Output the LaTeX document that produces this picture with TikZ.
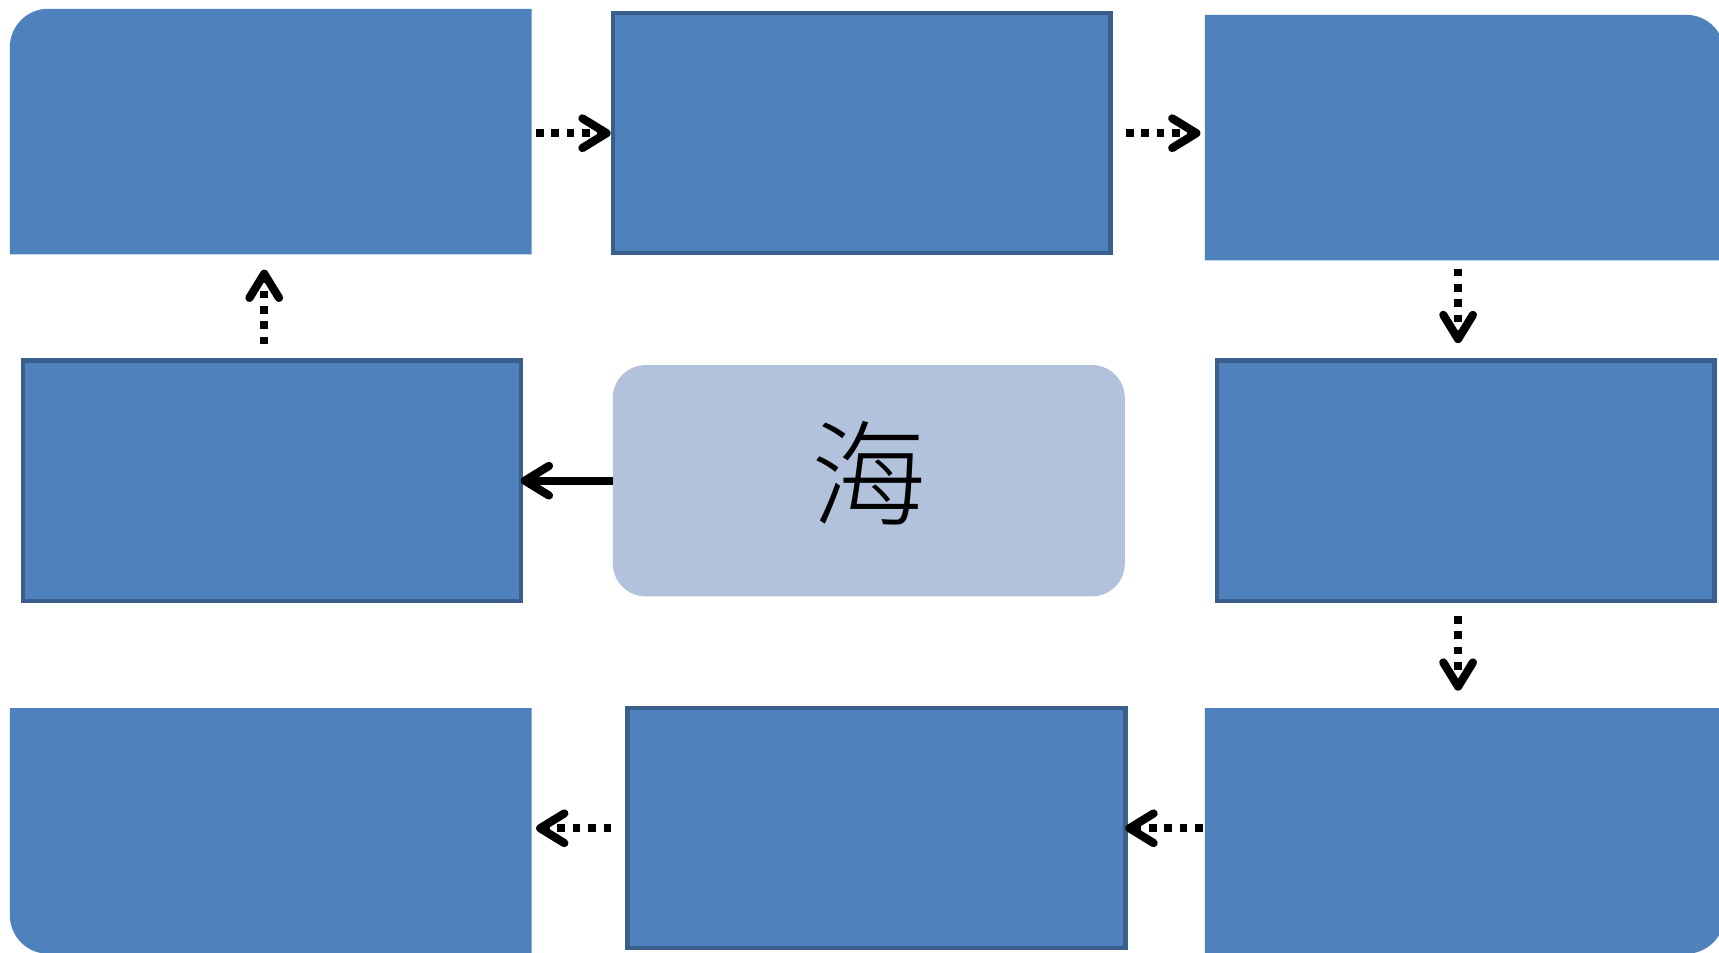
\documentclass[tikz,border=0pt]{standalone}
\usepackage{fontspec}
\newfontfamily\cjkfont{Noto Sans CJK TC Light}
\usetikzlibrary{arrows.meta,calc}
\definecolor{boxblue}{HTML}{4F81BD}
\definecolor{boxedge}{HTML}{3A5F8C}
\definecolor{centerfill}{HTML}{B2C1DC}
\tikzset{
  framedbox/.style={rectangle, draw=boxedge, fill=boxblue, line width=4pt,
    inner sep=0pt, outer sep=0pt, minimum width=454pt, minimum height=219pt},
  openbox/.style={rectangle, inner sep=0pt, outer sep=0pt,
    minimum width=476pt, minimum height=224pt},
  centerbox/.style={rectangle, rounded corners=30pt, fill=centerfill,
    inner sep=0pt, outer sep=0pt, minimum width=467pt, minimum height=211pt},
  kanji/.style={inner sep=0pt, font=\cjkfont\fontsize{105pt}{105pt}\selectfont},
  flowline/.style={line width=7.5pt, line cap=butt,
    -{Straight Barb[length=22pt,width=27pt,round]}},
  dotflow/.style={flowline, dash pattern=on 7pt off 7pt},
}
\begin{document}
\begin{tikzpicture}[x=1pt,y=1pt]
\useasboundingbox (0,0) rectangle (1568,869);
\clip (0,0) rectangle (1568,869);

% boxes
\node[openbox] (TL) at (247,749) {};
\node[framedbox] (TM) at (786,747.5) {};
\node[openbox, minimum width=474pt] (TR) at (1336,743.5) {};
\node[framedbox] (ML) at (248,430.5) {};
\node[centerbox] (C) at (792.5,430.5) {};
\node[framedbox] (MR) at (1337,430.5) {};
\node[openbox] (BL) at (247,111) {};
\node[framedbox] (BM) at (799.5,113.5) {};
\node[openbox, minimum width=474pt] (BR) at (1336,111) {};

% fills of the boxes with one rounded corner
\fill[boxblue] (TL.south west) -- ([yshift=-35pt]TL.north west)
  arc[start angle=180, end angle=90, radius=35pt] -- (TL.north east)
  -- (TL.south east) -- cycle;
\fill[boxblue] (TR.south west) -- (TR.north west) -- ([xshift=-35pt]TR.north east)
  arc[start angle=90, end angle=0, radius=35pt] -- (TR.south east) -- cycle;
\fill[boxblue] (BL.north west) -- ([yshift=35pt]BL.south west)
  arc[start angle=180, end angle=270, radius=35pt] -- (BL.south east)
  -- (BL.north east) -- cycle;
\fill[boxblue] (BR.north west) -- (BR.south west) -- ([xshift=-35pt]BR.south east)
  arc[start angle=270, end angle=360, radius=35pt] -- (BR.north east) -- cycle;

% text
\node[kanji] (hai) at ([yshift=7pt]C.center) {海};

% connectors
\draw[dotflow, shorten <=4pt, shorten >=2pt] (TM.west -| TL.east) -- (TM.west);
\draw[dotflow, shorten <=14pt, shorten >=4pt] (TM.east) -- (TM.east -| TR.west);
\draw[dotflow, shorten <=7.5pt, shorten >=16pt] ([xshift=-6pt]TR.south) -- ([xshift=-6pt]TR.south |- MR.north);
\draw[dotflow, shorten <=14pt, shorten >=16pt] ([xshift=-7pt]MR.south) -- ([xshift=-7pt]MR.south |- BR.north);
\draw[dotflow, shorten <=2pt, shorten >=0pt] (BM.east -| BR.west) -- (BM.east);
\draw[dotflow, shorten <=15pt, shorten >=4pt] (BM.west) -- (BM.west -| BL.east);
\draw[flowline] (C.west) -- (C.west -| ML.east);
\draw[dotflow, shorten <=15pt, shorten >=14pt] ([xshift=-7pt]ML.north) -- ([xshift=-7pt]ML.north |- TL.south);
\end{tikzpicture}
\end{document}
